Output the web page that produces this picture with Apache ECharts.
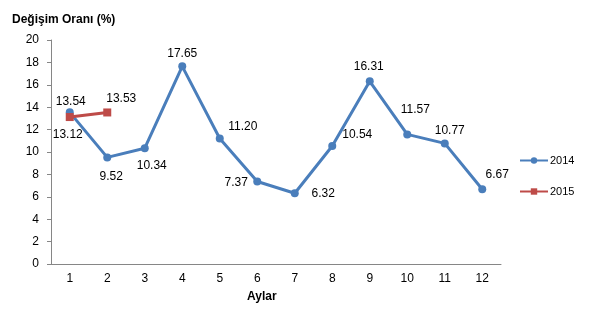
<!DOCTYPE html>
<html>
<head>
<meta charset="utf-8">
<script src="https://cdn.jsdelivr.net/npm/echarts@6/dist/echarts.min.js"></script>
<style>html,body{margin:0;padding:0;background:#fff}#c{width:596px;height:312px}</style>
</head>
<body>
<div id="c"></div>
<script>
const months = ['1','2','3','4','5','6','7','8','9','10','11','12'];
const values2014 = [13.54, 9.52, 10.34, 17.65, 11.20, 7.37, 6.32, 10.54, 16.31, 11.57, 10.77, 6.67];
const values2015 = [13.12, 13.53];
const seriesNames = ['2014', '2015'];

// label offsets (pixels, relative to the point)
const offsets2014 = [[1,-11],[4,19],[7,17.5],[0,-13],[23,-12],[-21,1],[28.5,0],[25,-11],[-1,-14.6],[8,-25],[5,-13],[15,-15]];
const offsets2015 = [[-2,18],[14,-14]];

const font = 'Liberation Sans, Arial, sans-serif';
function build(vals, offs) {
  return vals.map((v, i) => ({
    value: v,
    label: { offset: offs[i] }
  }));
}
const chart = echarts.init(document.getElementById('c'), null, {renderer: 'canvas'});
chart.setOption({
  animation: false,
  backgroundColor: '#fff',
  textStyle: { fontFamily: font },
  title: [
    { text: 'Değişim Oranı (%)', left: 12, top: 14, padding: 0,
      textStyle: { fontFamily: font, fontSize: 12, fontWeight: 'bold', color: '#000' } },
    { text: 'Aylar', left: 247, top: 291, padding: 0,
      textStyle: { fontFamily: font, fontSize: 12, fontWeight: 'bold', color: '#000' } }
  ],
  legend: {
    orient: 'vertical',
    left: 519, top: 155,
    itemWidth: 28, itemHeight: 8, itemGap: 20,
    padding: 0,
    textStyle: { fontFamily: font, fontSize: 11, color: '#000', padding: [0,0,0,-3] },
    data: seriesNames
  },
  grid: { left: 51, right: 95, top: 40, bottom: 48, containLabel: false },
  xAxis: {
    type: 'category', data: months, boundaryGap: true,
    axisLine: { lineStyle: { color: '#868686', width: 1 } },
    axisTick: { show: false },
    axisLabel: { color: '#000', fontSize: 12, fontFamily: font, margin: 9 },
    splitLine: { show: false }
  },
  yAxis: {
    type: 'value', min: 0, max: 20, interval: 2,
    axisLine: { show: true, lineStyle: { color: '#868686', width: 1 } },
    axisTick: { show: true, length: 4, lineStyle: { color: '#868686' } },
    axisLabel: { color: '#000', fontSize: 12, fontFamily: font, margin: 12 },
    splitLine: { show: false }
  },
  series: [
    {
      name: seriesNames[0], type: 'line', data: build(values2014, offsets2014),
      symbol: 'circle', symbolSize: 8,
      lineStyle: { color: '#4A7EBB', width: 3 },
      itemStyle: { color: '#4A7EBB' },
      label: { show: true, position: 'inside', color: '#000', fontSize: 12, fontFamily: font,
        formatter: p => p.value.toFixed(2) },
      z: 3
    },
    {
      name: seriesNames[1], type: 'line', data: build(values2015, offsets2015),
      symbol: 'rect', symbolSize: 8,
      lineStyle: { color: '#BE4B48', width: 3 },
      itemStyle: { color: '#BE4B48' },
      label: { show: true, position: 'inside', color: '#000', fontSize: 12, fontFamily: font,
        formatter: p => p.value.toFixed(2) },
      z: 4
    }
  ]
});
</script>
</body>
</html>
